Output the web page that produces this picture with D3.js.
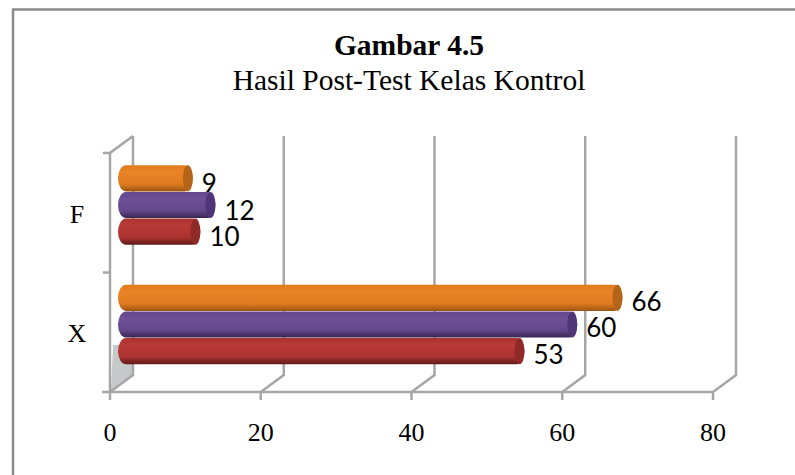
<!DOCTYPE html>
<html>
<head>
<meta charset="utf-8">
<script src="https://cdn.jsdelivr.net/npm/d3@7"></script>
<style>
  html, body { margin: 0; background: #fff; }
  svg { display: block; }
  .serif { font-family: "Liberation Serif", serif; fill: #000; }
  .lbl { font-family: Lato, sans-serif; font-size: 26px; fill: #000; }
</style>
</head>
<body>
<svg id="chart" width="795" height="475"></svg>
<script>
let categories = ["F", "X"],
    seriesNames = ["orange", "purple", "red"],
    orangeValues = [9, 66],
    purpleValues = [12, 60],
    redValues = [10, 53],
    xTicks = [0, 20, 40, 60, 80];

let seriesValues = { orange: orangeValues, purple: purpleValues, red: redValues };
let seriesColors = {
  orange: ["#ea8427", "#df7a20", "#9c5512", "#b5651a"],
  purple: ["#6f4f98", "#64478c", "#382650", "#4f3578"],
  red: ["#b93a37", "#ab3330", "#5e1a18", "#8f2a28"]
};

let width = 795,
    height = 475,
    depthX = 23,   // back wall offset of the 3d box
    depthY = -17,
    barDepth = 15, // bar end sits this far behind the front axis
    capRx = 5;

let svg = d3.select("#chart");

function visualize() {
  let scales = make_scales();
  draw_frame();
  draw_axes(scales);
  draw_bars(scales);
  draw_titles();
}

function make_scales() {
  let y = d3.scaleBand().domain(categories).range([153, 392]);
  return {
    x: d3.scaleLinear().domain([0, 80]).range([110, 713]),
    y: y,
    series: d3.scaleBand().domain(seriesNames).range([-48, 32])
  };
}

// the frame only shows on the top and left, the rest is cropped off
function draw_frame() {
  svg.append("path")
    .attr("d", d3.line()([[13, height], [13, 9.5], [width, 9.5]]))
    .attr("fill", "none")
    .attr("stroke", "#8a8a8a")
    .attr("stroke-width", 2.5);
}

function draw_axes(scales) {
  let grid = "#a6a6a6";
  let [top, bottom] = scales.y.range();
  let g = svg.append("g").attr("fill", "none").attr("stroke", grid).attr("stroke-width", 2.5);

  // grey patch on the side wall, mostly hidden by the red bar
  g.append("path")
    .attr("d", d3.line()([
      [scales.x(0) + 3, bottom - 47],
      [scales.x(0) + depthX, bottom - 47],
      [scales.x(0) + depthX, bottom + depthY],
      [scales.x(0) + 1, bottom - 1]
    ]))
    .attr("fill", "#c6c9c9").attr("stroke", "none");

  // back wall gridlines and the diagonal floor lines
  xTicks.forEach(t => {
    let x0 = scales.x(t);
    g.append("path").attr("d", d3.line()([
      [x0, bottom],
      [x0 + depthX, bottom + depthY],
      [x0 + depthX, top + depthY]
    ]));
    g.append("line")
      .attr("x1", x0).attr("x2", x0)
      .attr("y1", bottom).attr("y2", bottom + 8);
  });

  // left side wall
  g.append("path").attr("d", d3.line()([
    [scales.x(0), bottom],
    [scales.x(0), top],
    [scales.x(0) + depthX, top + depthY]
  ]));
  // front axis
  g.append("line")
    .attr("x1", scales.x(0) - 8).attr("x2", scales.x(80))
    .attr("y1", bottom).attr("y2", bottom);

  // category ticks, on the band edges
  categories.forEach(c => {
    g.append("line")
      .attr("x1", scales.x(0) - 7).attr("x2", scales.x(0))
      .attr("y1", scales.y(c)).attr("y2", scales.y(c));
  });

  svg.append("g").selectAll("text")
    .data(xTicks).enter()
    .append("text")
    .attr("class", "serif")
    .attr("x", d => scales.x(d))
    .attr("y", 441)
    .attr("text-anchor", "middle")
    .attr("font-size", 26)
    .text(d => d);

  svg.append("g").selectAll("text")
    .data(categories).enter()
    .append("text")
    .attr("class", "serif")
    .attr("x", 77)
    .attr("y", d => scales.y(d) + scales.y.bandwidth() / 2 + 10)
    .attr("text-anchor", "middle")
    .attr("font-size", 26)
    .text(d => d);
}

function draw_bars(scales) {
  let defs = svg.append("defs");
  seriesNames.forEach(name => {
    let c = seriesColors[name];
    let grad = defs.append("linearGradient")
      .attr("id", "grad-" + name)
      .attr("x1", 0).attr("x2", 0).attr("y1", 0).attr("y2", 1);
    grad.append("stop").attr("offset", "0%").attr("stop-color", c[1]);
    grad.append("stop").attr("offset", "25%").attr("stop-color", c[0]);
    grad.append("stop").attr("offset", "72%").attr("stop-color", c[1]);
    grad.append("stop").attr("offset", "100%").attr("stop-color", c[2]);
  });

  let h = scales.series.bandwidth();
  categories.forEach((cat, i) => {
    // top of the stack is drawn first, lower bars sit over it
    seriesNames.forEach(name => {
      let v = seriesValues[name][i];
      let yTop = scales.y(cat) + scales.y.bandwidth() / 2 + scales.series(name);
      let left = scales.x(0) + 8;
      let right = scales.x(v) + barDepth;
      let g = svg.append("g");
      g.append("rect")
        .attr("x", left).attr("y", yTop + 0.5)
        .attr("width", right - left).attr("height", h - 0.5)
        .attr("rx", 8).attr("ry", h / 2)
        .attr("fill", "url(#grad-" + name + ")");
      g.append("ellipse")
        .attr("cx", right - capRx).attr("cy", yTop + h / 2 + 0.25)
        .attr("rx", capRx).attr("ry", h / 2 - 0.25)
        .attr("fill", seriesColors[name][3]);
      svg.append("text")
        .attr("class", "lbl")
        .attr("x", scales.x(v) + 24)
        .attr("y", yTop + h / 2 + (cat == "F" ? 15 : 13))
        .text(v);
    });
  });
}

function draw_titles() {
  svg.append("text")
    .attr("class", "serif")
    .attr("x", 409).attr("y", 55)
    .attr("text-anchor", "middle")
    .attr("font-size", 29.5)
    .attr("font-weight", "bold")
    .text("Gambar 4.5");
  svg.append("text")
    .attr("class", "serif")
    .attr("x", 409).attr("y", 90)
    .attr("text-anchor", "middle")
    .attr("font-size", 29.5)
    .text("Hasil Post-Test Kelas Kontrol");
}

visualize();
</script>
</body>
</html>
